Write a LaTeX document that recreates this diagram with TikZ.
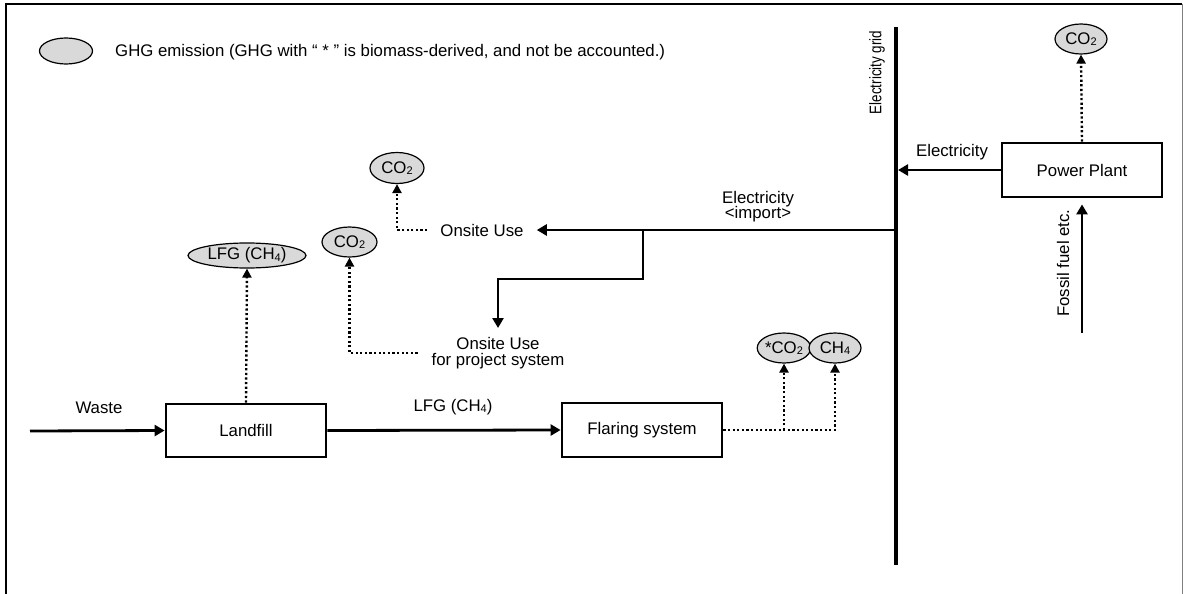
\documentclass[tikz,border=0pt]{standalone}
\usepackage{fontspec}
\setmainfont{Liberation Sans}
\usetikzlibrary{shapes.geometric,arrows.meta}
\definecolor{ghgfill}{RGB}{217,217,217}
\newcommand\subs[1]{\raisebox{-0.15ex}{\fontsize{11}{11}\selectfont #1}}
\begin{document}
\begin{tikzpicture}[x=1pt,y=-1pt,
  every node/.style={font=\fontsize{16.8}{16}\selectfont},
  ghg/.style={ellipse,draw,line width=1.2pt,fill=ghgfill,inner sep=0pt},
  procbox/.style={rectangle,draw,line width=2.8pt,minimum width=160pt,minimum height=54pt,inner sep=0pt},
  arr/.style={line width=2.8pt,-{Triangle[length=10pt,width=11pt]}},
  dotline/.style={line width=2.4pt,dash pattern=on 2.2pt off 2.4pt},
  dotarr/.style={dotline,-{Triangle[length=9pt,width=9pt]}},
  lbl/.style={inner sep=0pt}]
\useasboundingbox (0,0) rectangle (1183,594);
% frame
\draw[line width=1.5pt] (6,594) -- (6,4) -- (1182,4);
\draw[gray,line width=1pt] (1182,4) -- (1182,594);
% legend
\node[ghg,minimum width=53pt,minimum height=26pt] (leg) at (66,51) {};
\node[lbl,anchor=west] (legtxt) at (115,52) {GHG emission (GHG with “ * ” is biomass-derived, and not be accounted.)};
% electricity grid
\coordinate (gtop) at (896,27);
\coordinate (gbot) at (896,565);
\draw[line width=4pt] (gtop) -- (gbot);
\node[lbl,rotate=90] (gridlbl) at (877,72.5) {\scalebox{0.8}[1]{Electricity grid}};
% power plant
\node[procbox] (pp) at (1082,170) {Power Plant};
\node[ghg,minimum width=52pt,minimum height=30pt] (co2pp) at (1081,39) {CO\subs{2}};
\draw[dotarr] (pp.north) -- (co2pp.south);
\coordinate (ge) at (898,170);
\draw[arr] (pp.west) -- (ge);
\node[lbl] (elbl) at (952,152) {Electricity};
\coordinate (ff) at (1082,333);
\draw[arr,shorten >=6pt] (ff) -- (pp.south);
\node[lbl,rotate=90] (fflbl) at (1063,263) {Fossil fuel etc.};
% onsite use
\node[inner xsep=13pt,inner ysep=0pt] (ou) at (482,230) {Onsite Use};
\coordinate (gi) at (896,230);
\draw[arr] (gi) -- (ou.east);
\node[lbl,align=center] (implbl) at (758,207) {Electricity\\[-1pt]<import>};
\node[ghg,minimum width=54pt,minimum height=31pt] (co2a) at (397,168) {CO\subs{2}};
\draw[dotarr] (ou.west) -| (co2a.south);
% onsite use for project system
\node[align=center,anchor=north,inner xsep=14pt,inner ysep=9pt] (op) at (498,328) {Onsite Use\\for project system};
\coordinate (br) at (643,230);
\coordinate (bk) at (643,279);
\draw[arr] (br) -- (bk) -| (op.north);
\node[ghg,minimum width=55pt,minimum height=30pt] (co2b) at (349.5,242) {CO\subs{2}};
\draw[dotarr] (op.west) -| (co2b.south);
% landfill
\node[procbox,minimum height=53pt] (lf) at (246,430.5) {Landfill};
\coordinate (w0) at (30,431);
\draw[arr] (w0) -- (lf.west);
\node[lbl] (wlbl) at (99,408) {Waste};
\node[ghg,minimum width=118pt,minimum height=25pt] (lfg) at (247,255.5) {LFG (CH\subs{4})};
\draw[dotarr] (lf.north) -- (lfg.south);
% flaring
\node[procbox] (fl) at (642,430) {Flaring system};
\draw[arr] (lf.east) -- (fl.west);
\node[lbl] (lfglbl) at (453,407) {LFG (CH\subs{4})};
\node[ghg,minimum width=50pt,minimum height=30pt] (co2s) at (784,348) {*CO\subs{2}};
\node[ghg,minimum width=52pt,minimum height=30pt] (ch4) at (835,348) {CH\subs{4}};
\draw[dotarr] (fl.east) -| (ch4.south);
\coordinate (fb) at (784,430);
\draw[dotarr] (fb) -- (co2s.south);
\end{tikzpicture}
\end{document}
